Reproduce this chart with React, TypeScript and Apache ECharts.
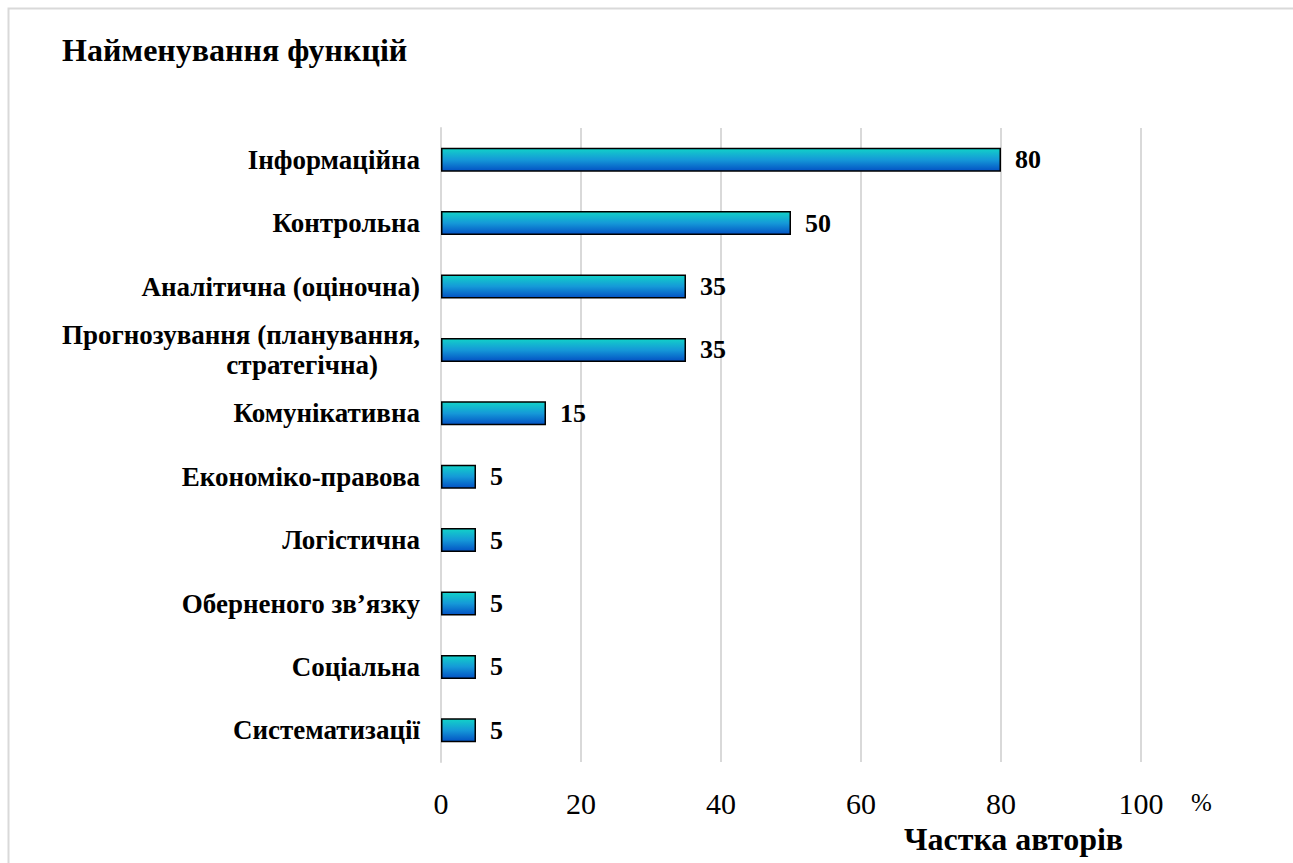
import React, { useEffect, useRef } from "react";
import * as echarts from "echarts";

const categories = [
  "Інформаційна",
  "Контрольна",
  "Аналітична (оціночна)",
  "Прогнозування (планування,\nстратегічна)",
  "Комунікативна",
  "Економіко-правова",
  "Логістична",
  "Оберненого зв’язку",
  "Соціальна",
  "Систематизації",
];
const values = [80, 50, 35, 35, 15, 5, 5, 5, 5, 5];
const xTicks = [0, 20, 40, 60, 80, 100];

const FONT = "'Liberation Serif', 'Times New Roman', serif";

export default function App() {
  const ref = useRef<HTMLDivElement>(null);
  useEffect(() => {
    document.body.style.margin = "0";
    const chart = echarts.init(ref.current!, null, { renderer: "svg" });
    chart.setOption({
      animation: false,
      backgroundColor: "#ffffff",
      grid: { left: 441, right: 152, top: 128, bottom: 101, containLabel: false },
      graphic: [
        {
          type: "rect",
          shape: { x: 8.5, y: 8.5, width: 1300, height: 900 },
          style: { fill: "none", stroke: "#d9d9d9", lineWidth: 2 },
          silent: true,
        },
        {
          type: "text",
          left: 62,
          top: 34,
          style: {
            text: "Найменування функцій",
            font: `bold 32px ${FONT}`,
            fill: "#000",
          },
        },
        {
          type: "text",
          left: 1191,
          top: 790,
          style: { text: "%", font: `25px ${FONT}`, fill: "#000" },
        },
        {
          type: "text",
          left: 904,
          top: 823,
          style: { text: "Частка авторів", font: `bold 32px ${FONT}`, fill: "#000" },
        },
      ],
      xAxis: {
        type: "value",
        min: 0,
        max: 100,
        interval: 20,
        axisLine: { show: false },
        axisTick: { show: false },
        splitLine: { show: true, lineStyle: { color: "#d9d9d9", width: 2 } },
        axisLabel: {
          fontFamily: FONT,
          fontSize: 30,
          color: "#000",
          margin: 26,
          formatter: (v: number) => (xTicks.includes(v) ? String(v) : ""),
        },
      },
      yAxis: {
        type: "category",
        data: categories,
        inverse: true,
        axisLine: { show: true, lineStyle: { color: "#d9d9d9", width: 2 } },
        axisTick: { show: false },
        axisLabel: {
          fontFamily: FONT,
          fontSize: 27,
          fontWeight: "bold",
          color: "#000",
          margin: 21,
          lineHeight: 30,
          align: "right",
          formatter: (v: string) => {
            if (v.includes("\n")) {
              const [a, b] = v.split("\n");
              return `{a|${a}}\n{b|${b}}`;
            }
            return v;
          },
          rich: {
            a: { fontFamily: FONT, fontSize: 27, fontWeight: "bold", color: "#000", lineHeight: 30 },
            b: {
              fontFamily: FONT,
              fontSize: 27,
              fontWeight: "bold",
              color: "#000",
              lineHeight: 30,
              padding: [0, 42, 0, 0],
            },
          },
        },
      },
      series: [
        {
          type: "bar",
          data: values,
          barWidth: 24,
          itemStyle: {
            color: new echarts.graphic.LinearGradient(0, 0, 0, 1, [
              { offset: 0, color: "#12d2c8" },
              { offset: 0.5, color: "#1599d8" },
              { offset: 1, color: "#0352c4" },
            ]),
            borderColor: "#000",
            borderWidth: 1.5,
          },
          label: {
            show: true,
            position: "right",
            distance: 14,
            fontFamily: FONT,
            fontSize: 26,
            fontWeight: "bold",
            color: "#000",
          },
        },
      ],
    });
    return () => chart.dispose();
  }, []);
  return (
    <div
      ref={ref}
      style={{ position: "absolute", left: 0, top: 0, width: 1293, height: 863, overflow: "hidden" }}
    />
  );
}
